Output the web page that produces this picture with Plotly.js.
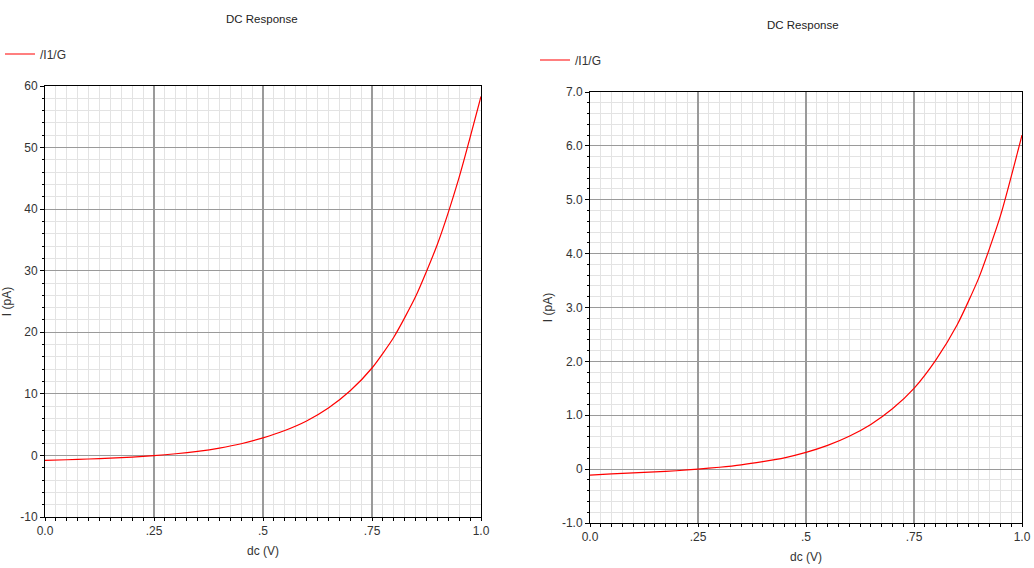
<!DOCTYPE html>
<html>
<head>
<meta charset="utf-8">
<script src="https://cdn.plot.ly/plotly-3.0.1.min.js"></script>
<style>
  html, body { margin: 0; padding: 0; background: #ffffff; }
  #chart { width: 1034px; height: 568px; }
</style>
</head>
<body>
<div id="chart"></div>
<script>
// ---- Data ----
const dcVolts = [0, 0.05, 0.10, 0.15, 0.20, 0.25, 0.30, 0.35, 0.40, 0.45, 0.50,
                 0.55, 0.60, 0.65, 0.70, 0.75, 0.80, 0.85, 0.90, 0.95, 1.00];
const leftCurrent = [-0.80, -0.70, -0.58, -0.45, -0.27, -0.03, 0.27, 0.67, 1.20, 1.90, 2.85,
                     4.05, 5.60, 7.70, 10.5, 14.2, 19.2, 25.8, 34.3, 45.2, 58.3];
const rightCurrent = [-0.11, -0.09, -0.07, -0.05, -0.03, 0.00, 0.035, 0.08, 0.14, 0.21, 0.31,
                      0.44, 0.61, 0.83, 1.12, 1.50, 2.02, 2.68, 3.55, 4.70, 6.20];
const seriesName = "/I1/G";
const chartTitle = "DC Response";
const xTitle = "dc (V)";
const yTitle = "I (pA)";
const xTickVals = [0, 0.25, 0.5, 0.75, 1.0];
const xTickText = ["0.0", ".25", ".5", ".75", "1.0"];
const leftYTickVals = [-10, 0, 10, 20, 30, 40, 50, 60];
const leftYTickText = ["-10", "0", "10", "20", "30", "40", "50", "60"];
const rightYTickVals = [-1, 0, 1, 2, 3, 4, 5, 6, 7];
const rightYTickText = ["-1.0", "0", "1.0", "2.0", "3.0", "4.0", "5.0", "6.0", "7.0"];

// ---- Styling ----
const W = 1034, H = 568;
const FONT = "Liberation Sans, Arial, sans-serif";
const majorGrid = "#9a9a9a";
const minorGrid = "#e3e3e3";

function axisBase(extra) {
  return Object.assign({
    showline: true, linecolor: "#000000", linewidth: 1, mirror: true,
    showgrid: true, gridcolor: majorGrid, gridwidth: 1.2,
    zeroline: true, zerolinecolor: majorGrid, zerolinewidth: 1.2,
    ticks: "outside", ticklen: 4, tickcolor: "#000000", tickwidth: 1,
    tickfont: { family: FONT, size: 12, color: "#333333" },
    fixedrange: true, automargin: false
  }, extra);
}

const px2x = p => p / W;
const px2y = p => 1 - p / H;

const traces = [
  { x: dcVolts, y: leftCurrent, type: "scatter", mode: "lines", name: seriesName,
    line: { color: "#ff0000", width: 1.2, shape: "spline", smoothing: 0.6 },
    xaxis: "x", yaxis: "y", legend: "legend" },
  { x: dcVolts, y: rightCurrent, type: "scatter", mode: "lines", name: seriesName,
    line: { color: "#ff0000", width: 1.2, shape: "spline", smoothing: 0.6 },
    xaxis: "x2", yaxis: "y2", legend: "legend2" }
];

const legendStyle = {
  font: { family: FONT, size: 12, color: "#333333" },
  bgcolor: "rgba(0,0,0,0)", borderwidth: 0,
  xanchor: "left", yanchor: "middle", orientation: "v",
  itemwidth: 30, tracegroupgap: 0
};

const layout = {
  width: W, height: H,
  margin: { l: 0, r: 0, t: 0, b: 0 },
  paper_bgcolor: "#ffffff", plot_bgcolor: "#ffffff",
  showlegend: true,
  legend: Object.assign({}, legendStyle, { x: 0, y: px2y(54) }),
  legend2: Object.assign({}, legendStyle, { x: px2x(535), y: px2y(60) }),
  xaxis: axisBase({
    domain: [px2x(45), px2x(481)], range: [0, 1], anchor: "y",
    tickvals: xTickVals, ticktext: xTickText, ticklen: 3,
    minor: { dtick: 0.025, showgrid: true, gridcolor: minorGrid, gridwidth: 1,
             ticks: "outside", ticklen: 3, tickcolor: "#000000" },
    title: { text: xTitle, font: { family: FONT, size: 12, color: "#333333" }, standoff: 9 }
  }),
  yaxis: axisBase({
    domain: [px2y(517), px2y(86)], range: [-10, 60], anchor: "x",
    tickvals: leftYTickVals, ticktext: leftYTickText,
    minor: { dtick: 2, showgrid: true, gridcolor: minorGrid, gridwidth: 1,
             ticks: "outside", ticklen: 2, tickcolor: "#000000" },
    title: { text: yTitle, font: { family: FONT, size: 12, color: "#333333" }, standoff: 6 }
  }),
  xaxis2: axisBase({
    domain: [px2x(590), px2x(1022)], range: [0, 1], anchor: "y2",
    tickvals: xTickVals, ticktext: xTickText, ticklen: 3,
    minor: { dtick: 0.025, showgrid: true, gridcolor: minorGrid, gridwidth: 1,
             ticks: "outside", ticklen: 3, tickcolor: "#000000" },
    title: { text: xTitle, font: { family: FONT, size: 12, color: "#333333" }, standoff: 9 }
  }),
  yaxis2: axisBase({
    domain: [px2y(523), px2y(92)], range: [-1, 7], anchor: "x2",
    tickvals: rightYTickVals, ticktext: rightYTickText,
    minor: { dtick: 0.2, showgrid: true, gridcolor: minorGrid, gridwidth: 1,
             ticks: "outside", ticklen: 2, tickcolor: "#000000" },
    title: { text: yTitle, font: { family: FONT, size: 12, color: "#333333" }, standoff: 6 }
  }),
  annotations: [
    { text: chartTitle, xref: "paper", yref: "paper", x: px2x(262), y: px2y(19),
      xanchor: "center", yanchor: "middle", showarrow: false,
      font: { family: FONT, size: 11.5, color: "#222222" } },
    { text: chartTitle, xref: "paper", yref: "paper", x: px2x(803), y: px2y(25),
      xanchor: "center", yanchor: "middle", showarrow: false,
      font: { family: FONT, size: 11.5, color: "#222222" } }
  ]
};

Plotly.newPlot("chart", traces, layout, { staticPlot: true, displayModeBar: false });
</script>
</body>
</html>
